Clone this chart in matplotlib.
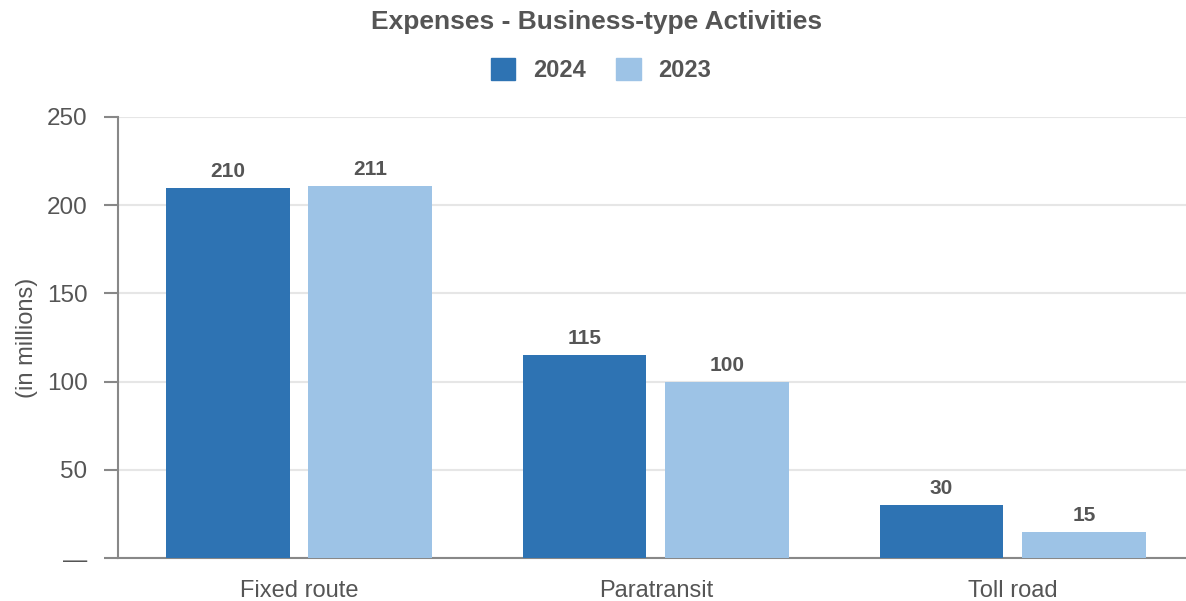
import numpy as np
import matplotlib.pyplot as plt
from matplotlib.patches import Patch

plt.rcParams['font.family'] = ['Liberation Sans', 'DejaVu Sans']

# Data
categories = ["Fixed route", "Paratransit", "Toll road"]
values_2024 = [210, 115, 30]
values_2023 = [211, 100, 15]
series_names = ["2024", "2023"]
yticks = [0, 50, 100, 150, 200, 250]
ytick_labels = ["—", "50", "100", "150", "200", "250"]

c2024 = "#2e73b3"
c2023 = "#9dc3e6"
txt = "#555555"
axis_gray = "#888888"

fig = plt.figure(figsize=(11.86, 6.01), dpi=100)
ax = fig.add_axes([118 / 1186, 43 / 601, 1068 / 1186, 441 / 601])

x = np.arange(len(categories))
w = 0.347
off = 0.2
b1 = ax.bar(x - off, values_2024, w, color=c2024, zorder=3)
b2 = ax.bar(x + off, values_2023, w, color=c2023, zorder=3)

for bars, vals in ((b1, values_2024), (b2, values_2023)):
    for r, v in zip(bars, vals):
        ax.annotate(str(v), (r.get_x() + r.get_width() / 2, r.get_height()),
                    xytext=(0, 5), textcoords="offset points",
                    ha="center", va="bottom", fontsize=15, fontweight="bold", color=txt)

ax.set_xlim(-0.507, 2.485)
ax.set_ylim(0, 250)
ax.set_yticks(yticks)
ax.set_yticklabels(ytick_labels)
ax.set_xticks(x)
ax.set_xticklabels(categories)
ax.tick_params(axis="y", length=10, width=1.5, color=axis_gray, labelsize=17.5, labelcolor=txt, pad=12)
ax.tick_params(axis="x", length=0, labelsize=17, labelcolor=txt, pad=16)

ax.grid(axis="y", color="#e6e6e6", linewidth=1.5, zorder=0)
for s in ("top", "right"):
    ax.spines[s].set_visible(False)
for s in ("left", "bottom"):
    ax.spines[s].set_color(axis_gray)
    ax.spines[s].set_linewidth(1.5)

ax.set_ylabel("(in millions)", fontsize=17, color=txt, labelpad=6)

fig.text(597 / 1186, 1 - 22 / 601, "Expenses - Business-type Activities",
         ha="center", va="center", fontsize=19, fontweight="bold", color=txt)

handles = [Patch(color=c2024), Patch(color=c2023)]
fig.legend(handles, series_names, loc="center", bbox_to_anchor=(601 / 1186, 1 - 70 / 601),
           ncol=2, frameon=False, handlelength=1.05, handleheight=1.05, handletextpad=0.75,
           columnspacing=1.27, prop={"size": 17, "weight": "bold"}, labelcolor=txt)

fig.savefig("out.png", dpi=100)
